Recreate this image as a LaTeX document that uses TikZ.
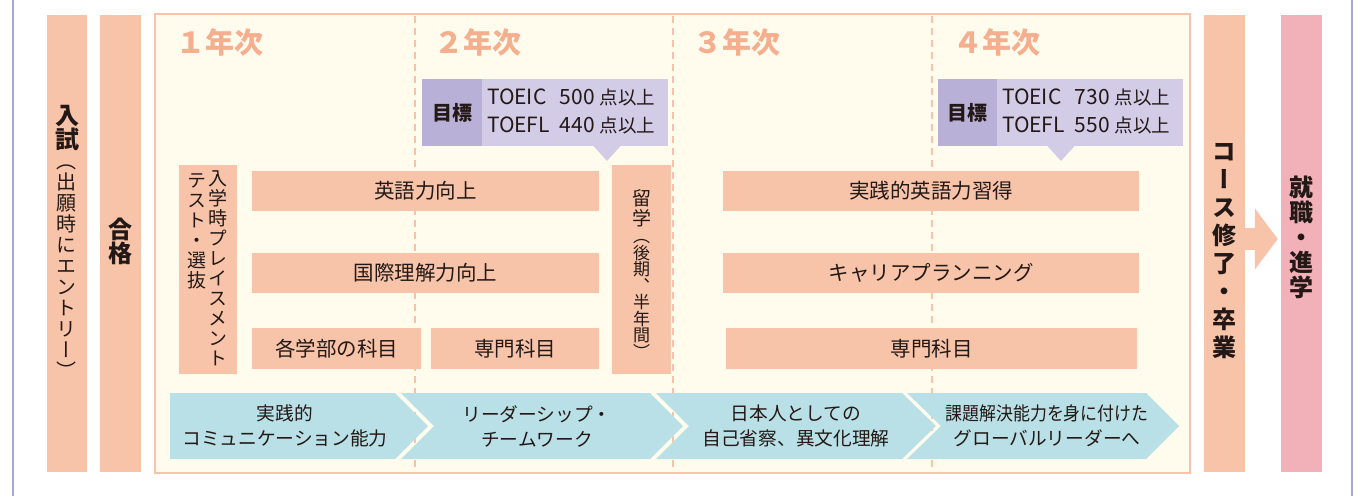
\documentclass[tikz,border=0pt]{standalone}
\usepackage{fontspec}
\usepackage{graphicx}
\setmainfont{Noto Sans CJK JP}
\newfontfamily\vjp[RawFeature=+vert]{Noto Sans CJK JP}
\usetikzlibrary{arrows.meta}
\definecolor{salmon}{HTML}{F7C4A9}
\definecolor{yeartxt}{HTML}{F5AE8E}
\definecolor{cream}{HTML}{FFFCEE}
\definecolor{chev}{HTML}{B9E0E6}
\definecolor{frameline}{HTML}{A3AADB}
\definecolor{pinkbox}{HTML}{F2B0B8}
\definecolor{goaldark}{HTML}{B8B0D6}
\definecolor{goallight}{HTML}{D3CCE6}
\definecolor{ink}{HTML}{231815}

\ExplSyntaxOn
\NewDocumentCommand\vstack{m m}{
  \vbox{\offinterlineskip
    \tl_map_inline:nn {#2}{\hbox_to_wd:nn{1.2em}{\hss\vrule height 0.88\dimexpr#1\relax depth 0.12\dimexpr#1\relax width 0pt ##1\hss}}
  }
}
\ExplSyntaxOff

\tikzset{
  sbox/.style={fill=salmon, draw=none, inner sep=0pt, text=ink, font=\fontsize{20.5}{22}\selectfont},
  colbox/.style={fill=salmon, draw=none, inner sep=0pt, minimum width=41pt, minimum height=457pt},
  vhdr/.style={inner sep=0pt, text=ink, font=\vjp\bfseries\fontsize{24}{24}\selectfont},
  vtxt/.style={inner sep=0pt, text=ink, font=\vjp\fontsize{19}{19}\selectfont},
  yr/.style={anchor=west, inner sep=0pt, text=yeartxt, font=\bfseries\fontsize{29}{29}\selectfont},
  chevtxt/.style={inner sep=0pt, text=ink, align=center, font=\fontsize{18.7}{25}\selectfont},
  goalk/.style={fill=goaldark, inner sep=0pt, minimum width=60pt, minimum height=67pt, text=ink, font=\bfseries\fontsize{20}{20}\selectfont},
  goall/.style={fill=goallight, inner sep=0pt, minimum width=186pt, minimum height=67pt, text=ink, font=\fontsize{21}{28}\selectfont},
  divider/.style={draw=salmon, line width=2pt, dash pattern=on 7pt off 5pt},
}

\newcommand\pts{{\fontsize{18.5}{28}\selectfont 点以上}}
\newcommand\goaltab[2]{\raisebox{-2.5pt}{\makebox[176pt][l]{\begin{tabular}{@{}l@{\hspace{10pt}}l@{}}TOEIC & #1\hspace{5pt}\pts\\ TOEFL & #2\hspace{5pt}\pts\end{tabular}}}}

\begin{document}
\begin{tikzpicture}[x=1pt,y=-1pt]
\useasboundingbox (0,0) rectangle (1363,496);
\fill[white] (0,0) rectangle (1363,496);
% outer lavender lines
\draw[frameline, line width=2.6pt] (13,0) -- (13,496);
\draw[frameline, line width=2.6pt] (1352,0) -- (1352,496);

% main cream panel
\node[fill=cream, draw=salmon, line width=2pt, minimum width=1035pt, minimum height=459pt, inner sep=0pt] (panel) at (672.5,243.5) {};
\coordinate (d1t) at (415,16); \coordinate (d1b) at (415,472);
\coordinate (d2t) at (673,16); \coordinate (d2b) at (673,472);
\coordinate (d3t) at (932,16); \coordinate (d3b) at (932,472);
\draw[divider] (d1t) -- (d1b);
\draw[divider] (d2t) -- (d2b);
\draw[divider] (d3t) -- (d3b);

% side columns
\node[colbox, minimum width=40pt] (entry) at (67,243.5) {};
\node[colbox] (pass) at (120.5,243.5) {};
\node[colbox] (course) at (1224.5,243.5) {};
\node[colbox, fill=pinkbox] (job) at (1301.5,243.5) {};

\node[vhdr] (entryA) at (67,127) {\vstack{24pt}{入試}};
\node[vtxt, font=\vjp\fontsize{20}{20}\selectfont] (entryB) at (67,266) {\vstack{21pt}{（出願時にエントリー）}};
\node[vhdr] (passT) at (120.5,241) {\vstack{24pt}{合格}};
\node[vhdr] (courseT) at (1224.5,248) {\vstack{28pt}{コース修了・卒業}};
\node[vhdr] (jobT) at (1301.5,237) {\vstack{25pt}{就職・進学}};

% arrow from course to job
\coordinate (arrS) at (course.east |- 0,239);
\coordinate (arrE) at (job.west |- 0,239);
\draw[salmon, line width=22pt, -{Triangle[length=23pt,width=60pt]}, shorten >=3pt] (arrS) -- (arrE);

% year labels
\node[yr] (y1) at (176,42) {１年次};
\node[yr] (y2) at (434,42) {２年次};
\node[yr] (y3) at (693,42) {３年次};
\node[yr] (y4) at (953,42) {４年次};

% goal boxes
\node[goall] (g2) at (575,112.5) {\goaltab{500}{440}};
\node[goalk] (g2k) at (452,112.5) {目標};
\fill[goallight] (593,145.5) -- (607,161) -- (621,145.5) -- cycle;
\node[goall, minimum width=186pt] (g4) at (1090,112.5) {\goaltab{730}{550}};
\node[goalk, minimum width=59pt] (g4k) at (967.5,112.5) {目標};
\fill[goallight] (1047,145.5) -- (1061,161) -- (1075,145.5) -- cycle;

% placement & study abroad
\node[sbox, minimum width=58pt, minimum height=209pt] (place) at (208,269.5) {};
\node[vtxt] (placeA) at (218,268) {\vstack{20pt}{入学時プレイスメント}};
\node[vtxt] (placeB) at (197,230) {\vstack{20pt}{テスト・選抜}};
\node[sbox, minimum width=59pt, minimum height=209pt] (abroad) at (641.5,269.5) {};
\node[vtxt] (abroadA) at (641.5,208) {\vstack{19.5pt}{留学}};
\node[vtxt, font=\vjp\fontsize{17}{17}\selectfont] (abroadB) at (641.5,294) {\vstack{16.5pt}{（後期、半年間）}};

% salmon bars
\node[sbox, minimum width=347pt, minimum height=40pt] (eng) at (425.5,191) {英語力向上};
\node[sbox, minimum width=347pt, minimum height=40pt] (intl) at (425.5,273) {国際理解力向上};
\node[sbox, minimum width=169pt, minimum height=41pt] (fac) at (336.5,348.5) {各学部の科目};
\node[sbox, minimum width=168pt, minimum height=41pt] (sen2) at (515,348.5) {専門科目};
\node[sbox, minimum width=416pt, minimum height=40pt] (prac) at (931,191) {実践的英語力習得};
\node[sbox, minimum width=416pt, minimum height=40pt] (career) at (931,273) {キャリアプランニング};
\node[sbox, minimum width=411pt, minimum height=41pt] (sen34) at (931.5,348.5) {専門科目};

% chevrons
\fill[chev] (170,393) -- (395,393) -- (428,426) -- (395,459) -- (170,459) -- cycle;
\fill[chev] (401,393) -- (650,393) -- (683,426) -- (650,459) -- (401,459) -- (434,426) -- cycle;
\fill[chev] (656,393) -- (902,393) -- (936,426) -- (902,459) -- (656,459) -- (689,426) -- cycle;
\fill[chev] (907,393) -- (1146,393) -- (1179,426) -- (1146,459) -- (907,459) -- (941,426) -- cycle;
\node[chevtxt] (c1) at (285,426) {実践的\\コミュニケーション能力};
\node[chevtxt] (c2) at (537,426) {リーダーシップ・\\チームワーク};
\node[chevtxt] (c3) at (796,426) {日本人としての\\自己省察、異文化理解};
\node[chevtxt] (c4) at (1047,426) {\scalebox{0.905}[1]{課題解決能力を身に付けた}\\グローバルリーダーへ};
\end{tikzpicture}
\end{document}
